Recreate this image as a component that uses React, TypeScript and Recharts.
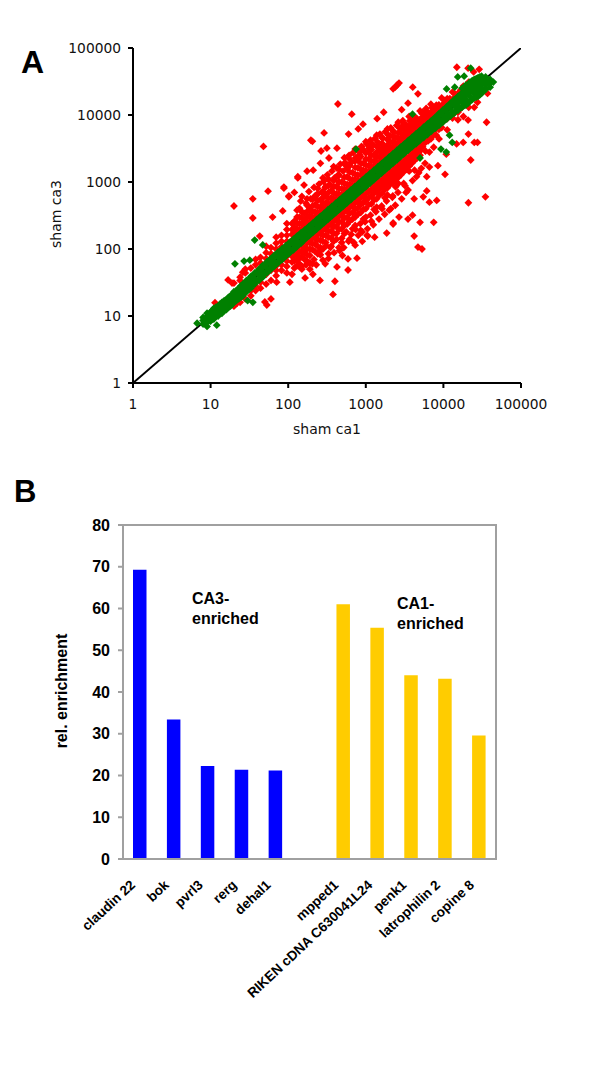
import React from "react";
import { ScatterChart, Scatter, XAxis, YAxis, BarChart, Bar, Cell } from "recharts";

// Panel A: values, [sham ca1, [sham ca3 values...]]
const redBandLow: [number, number[]][] = [
  [20, [31, 14]], [24, [38, 34, 16]], [28, [50, 44, 18]], [33, [52, 20, 24]], [38, [70, 58, 24, 28]],
  [44, [75, 62, 26, 32]], [52, [110, 88, 72, 30, 42]], [60, [105, 85, 72, 34, 48]],
  [70, [150, 122, 100, 84, 40, 48, 56]], [82, [160, 130, 108, 95, 48, 58, 68]],
  [96, [240, 195, 160, 130, 112, 44, 55, 66, 78]], [112, [240, 195, 165, 135, 42, 64, 78, 92]],
  [130, [380, 300, 245, 200, 170, 150, 56, 68, 84, 100, 112]], [150, [360, 290, 240, 200, 175, 50, 76, 92, 110, 125]],
  [175, [560, 450, 360, 295, 245, 210, 66, 82, 100, 122, 142]], [205, [550, 440, 360, 300, 250, 60, 98, 120, 145, 168]],
  [240, [800, 660, 530, 430, 350, 295, 85, 110, 138, 165, 195]], [280, [1150, 720, 580, 470, 390, 340, 100, 130, 160, 190, 225]],
  [330, [1100, 880, 700, 570, 470, 400, 85, 150, 185, 225, 265]], [385, [1700, 1050, 850, 680, 560, 470, 130, 170, 215, 260, 310]],
];
const redBandMid: [number, number[]][] = [
  [450, [1550, 1250, 1000, 800, 660, 550, 105, 195, 250, 305, 365]], [530, [2300, 1850, 1180, 950, 780, 650, 170, 225, 290, 360, 430]],
  [620, [2200, 1750, 1400, 1120, 920, 760, 140, 260, 340, 420, 500]], [730, [3100, 2050, 1650, 1300, 1080, 900, 225, 300, 390, 490, 590]],
  [860, [2900, 2400, 1900, 1550, 1280, 1060, 190, 350, 460, 580, 700]], [1000, [4000, 2700, 2200, 1800, 1480, 1230, 300, 400, 530, 670, 810]],
  [1180, [3700, 3050, 2500, 2050, 1700, 1430, 260, 470, 620, 780, 950]], [1380, [5000, 3400, 2800, 2350, 1950, 1650, 420, 560, 730, 920, 1120]],
  [1620, [4600, 3800, 3150, 2650, 2250, 1900, 400, 680, 860, 1080, 1320]], [1900, [6200, 4300, 3550, 3000, 2550, 2200, 640, 820, 1020, 1270, 1550]],
  [2230, [5800, 4800, 4000, 3400, 2900, 2550, 620, 980, 1210, 1490, 1820]], [2620, [7800, 5400, 4500, 3850, 3350, 2950, 950, 1170, 1430, 1750, 2130]],
];
const redBandHigh: [number, number[]][] = [
  [3080, [7300, 6100, 5100, 4400, 3850, 3450, 950, 1420, 1700, 2050, 2500]], [3620, [9500, 6800, 5800, 5000, 4400, 4000, 1450, 1720, 2030, 2420, 2950]],
  [4250, [8900, 7600, 6500, 5700, 5100, 1500, 2100, 2450, 2900, 3450]], [5000, [11500, 8500, 7400, 6500, 5900, 2500, 2900, 3400, 4050]],
  [5870, [11200, 9700, 8500, 7500, 6900, 2900, 3900, 4700]], [6900, [14500, 11000, 9700, 8700, 8000, 4400, 5400]],
  [8100, [14000, 12500, 11200, 10200, 9400, 5000, 6400]], [9500, [18000, 13800, 12500, 11500, 6500, 7600]],
  [11200, [17500, 15500, 14200, 6000, 8800]], [13100, [22000, 17000, 9000]],
  [15400, [21000, 8500, 11000]], [18100, [27000, 9500]], [21200, [31000, 13000]], [25000, [13000]],
];
const redBandFill: [number, number[]][] = [
  [120, [175, 210, 260, 66, 80, 52]], [140, [195, 240, 300, 405, 74, 90, 60]], [162, [225, 265, 340, 105, 88, 70]],
  [190, [255, 310, 395, 125, 100, 80, 62]], [222, [300, 360, 460, 620, 145, 118, 92]], [260, [350, 420, 540, 170, 135, 105, 82]],
  [305, [410, 490, 640, 860, 200, 160, 125]], [358, [480, 580, 740, 230, 185, 145, 110]], [418, [560, 670, 860, 1180, 270, 220, 170]],
  [490, [650, 790, 1000, 320, 255, 200, 145]], [575, [770, 920, 1190, 1600, 370, 295, 235]], [675, [900, 1080, 1380, 440, 350, 280, 200]],
  [790, [1060, 1270, 1620, 2150, 520, 410, 330]], [930, [1240, 1490, 1900, 610, 490, 390, 280]], [1090, [1450, 1750, 2200, 2850, 720, 580, 460]],
  [1280, [1700, 2050, 2550, 840, 680, 540, 390]], [1500, [2000, 2400, 2950, 3650, 990, 800, 640]], [1760, [2350, 2800, 3400, 1170, 950, 770, 580]],
  [2060, [2750, 3250, 3950, 4900, 1380, 1120, 920]], [2420, [3200, 3800, 4600, 1620, 1320, 1080, 850]], [2840, [3750, 4400, 5300, 6400, 1900, 1580, 1280]],
  [3340, [4400, 5100, 6100, 2250, 1900, 1550]], [3920, [5150, 5900, 7000, 8400, 2700, 2300, 1900]], [4600, [6100, 6900, 8100, 3250, 2750, 2300]],
  [5400, [7100, 8000, 9300, 11000, 3950, 3350]], [6350, [8300, 9300, 10700, 4800, 4100]], [7450, [9700, 10700, 12300, 5800, 5000]],
  [8750, [11300, 12500, 14200, 7000, 6100]], [10300, [13300, 14800, 16500, 8300]], [12100, [15500, 17500, 9600]],
  [14200, [18500, 20500, 11000]], [16700, [21000, 23500, 12500]],
];
const redUpperEdge: [number, number][] = [
  [145, 520], [150, 610], [170, 480], [185, 720], [195, 560], [215, 830], [230, 640], [250, 930], [270, 700], [285, 1020], [300, 830], [320, 1280], [345, 920],
  [365, 1450], [395, 1150], [420, 1620], [445, 1290], [470, 1850], [510, 1450], [540, 1950], [580, 1700], [610, 2500], [650, 1950], [690, 2750], [740, 2300],
  [780, 3000], [830, 2550], [880, 3400], [950, 2950], [1020, 3700], [1100, 3200], [1150, 4200], [1240, 3600], [1320, 4500], [1420, 3950], [1520, 5200], [1650, 4500],
  [1780, 5600], [1950, 5000], [2100, 6400], [2300, 5600], [2500, 7000], [2750, 6300], [3000, 8200], [3300, 7200], [3700, 8200], [4100, 9600], [4500, 9000],
  [5300, 10500], [6000, 12500], [7200, 13000],
];
const redLowerEdge: [number, number][] = [
  [150, 55], [170, 58], [190, 50], [215, 70], [230, 58], [260, 95], [280, 68], [310, 112], [330, 72], [350, 105], [390, 88], [420, 140], [460, 95], [490, 125],
  [520, 105], [560, 180], [600, 130], [650, 165], [700, 125], [740, 195], [800, 160], [850, 240], [900, 180], [980, 255], [1050, 200], [1150, 320], [1250, 230],
  [1350, 360], [1480, 280], [1600, 440], [1750, 330], [1850, 520], [2000, 380], [2200, 590], [2400, 450], [2600, 700], [2900, 560], [3200, 880], [3500, 760],
  [4000, 1050], [4500, 1200], [5200, 1600], [5800, 1900], [6600, 2800], [7500, 3300], [8800, 4400],
];
const redOutliers: [number, number][] = [
  [11.4, 15.8], [16.8, 34.6], [18.9, 31], [26, 45], [22, 15.6], [50, 16.2], [60, 18], [53, 14.6], [378, 21], [257, 34], [400, 33], [590, 48.6],
  [425, 54], [770, 73], [590, 71], [1860, 173], [2250, 236], [1040, 160], [730, 114], [165, 37], [208, 42], [71, 32], [105, 32], [142, 54],
  [48, 3400], [20, 438], [35, 560], [35, 290], [55, 730], [88, 810], [133, 1150], [102, 600], [63, 300], [85, 370], [43, 156],
  [14900, 51600], [20800, 50000], [28900, 48000], [24500, 44000], [2530, 28000], [2250, 24600], [2680, 30000], [2390, 26000],
  [4030, 26000], [4700, 20700], [437, 14600], [660, 10300], [920, 7300], [290, 5400], [196, 4200], [205, 4050], [315, 3200], [265, 2900], [425, 3200],
  [335, 2280], [175, 1450], [133, 1200], [88, 840], [102, 620], [36000, 7800], [22500, 2130], [34800, 600], [21000, 490], [10500, 1300], [8200, 530],
  [7500, 250], [6600, 500], [4200, 560], [5500, 600], [6100, 735], [5000, 250], [4200, 156], [3500, 280], [4000, 320], [1060, 156], [4700, 107], [5300, 100],
  [2680, 300], [2250, 245], [27500, 3900], [25000, 3900], [21000, 5200], [18000, 3900], [14800, 3700], [10900, 2600], [8500, 1750], [6600, 1670], [4800, 1370],
  [20800, 8400], [37000, 21000], [27500, 15500], [1400, 8800], [1700, 11000], [2900, 12000], [3500, 15000], [600, 5200], [800, 6200], [210, 1500],
  [160, 900], [260, 1900], [120, 700], [1300, 150], [2100, 400], [3300, 700], [6100, 1200], [900, 130], [500, 80], [300, 60],
];
const greenBandLow: [number, number[]][] = [
  [8, [7.6, 8.6, 9.5]], [9, [8.1, 9.6, 11]], [10, [8.4, 9.4, 11.5]], [11, [9, 11, 13]], [12.5, [10, 11.6, 14]], [14, [11, 13, 16]],
  [16, [12.5, 15, 17.5]], [18, [14, 17, 20]], [20, [16, 19, 23]], [23, [18, 22, 26]], [26, [20, 25, 30]], [29, [23, 28, 34]],
  [33, [26, 32, 39]], [37, [30, 36, 44]], [42, [34, 41, 50]], [47, [38, 46, 57]], [53, [44, 52, 64]], [59, [49, 60, 71]], [66, [55, 65, 80]],
  [74, [62, 75, 90]], [83, [69, 82, 100]], [93, [78, 94, 112]], [104, [87, 103, 125]], [117, [97, 118, 140]], [131, [110, 130, 157]], [147, [122, 148, 176]],
];
const greenBandMid: [number, number[]][] = [
  [165, [140, 164, 195]], [185, [157, 186, 218]], [207, [176, 205, 244]], [232, [197, 233, 274]], [260, [221, 258, 307]], [291, [247, 293, 343]],
  [326, [277, 325, 385]], [365, [310, 366, 431]], [409, [348, 407, 483]], [458, [389, 460, 540]], [513, [436, 510, 605]], [575, [489, 578, 678]],
  [644, [547, 640, 760]], [721, [613, 724, 851]], [808, [687, 805, 953]], [905, [769, 910, 1068]], [1014, [862, 1010, 1197]], [1135, [965, 1140, 1339]],
  [1272, [1081, 1265, 1501]], [1424, [1210, 1430, 1680]], [1595, [1356, 1590, 1882]], [1787, [1519, 1795, 2109]], [2000, [1700, 1990, 2360]], [2240, [1904, 2250, 2643]],
];
const greenBandHigh: [number, number[]][] = [
  [2510, [2130, 2500, 2960]], [2810, [2390, 2820, 3316]], [3150, [2680, 3140, 3717]], [3530, [3000, 3540, 4165]], [3950, [3350, 3940, 4660]], [4430, [3700, 4440, 5230]],
  [4960, [4150, 4950, 5850]], [5560, [4600, 5570, 6560]], [6230, [5100, 6220, 7350]], [6980, [5700, 7000, 8240]], [7820, [6300, 7800, 9230]], [8760, [7000, 8700, 10500]],
  [9800, [7800, 9800, 11800]], [11000, [8700, 11000, 13300]], [12300, [9600, 12300, 15000]], [13800, [10700, 13800, 17000]],
  [15500, [11800, 13500, 15500, 19000]], [17400, [13000, 15500, 17500, 21000, 25000]], [19500, [14000, 17000, 20000, 24000, 28000]],
  [22000, [16000, 19000, 22500, 27000, 31000]], [25000, [18000, 21000, 25000, 29000, 34000]], [28000, [19000, 23000, 27000, 31000, 36000]],
  [31000, [21000, 25000, 29000, 34000, 38000]], [35000, [24000, 28000, 32000, 37000]], [40000, [26000, 30000, 34000]],
];
const greenBandFill: [number, number[]][] = [
  [8.5, [8, 9.2]], [9.5, [8.5, 10]], [10.5, [9, 10.4, 12]], [11.7, [10, 11.8, 13.5]], [13.2, [11, 13.2, 15]],
  [15, [12, 14.5, 17]], [17, [13.5, 16, 19]], [19, [15, 18, 21]], [21.5, [17, 20.5, 24]], [24.5, [19, 23.5, 28]],
  [27.5, [22, 26.5, 31]], [31, [25, 30, 35]], [35, [30, 40]], [39.5, [34, 45]], [44.5, [38, 51]], [50, [43, 57]],
  [56, [48, 64]], [62.5, [54, 71]], [70, [60, 80]], [78.5, [68, 89]], [88, [76, 100]], [98.5, [85, 112]],
  [110, [95, 125]], [124, [107, 141]], [139, [120, 158]], [156, [135, 177]], [175, [152, 199]], [196, [170, 223]],
  [220, [190, 250]], [246, [213, 279]], [276, [239, 313]], [309, [268, 351]], [346, [300, 393]], [387, [335, 439]],
  [433, [375, 492]], [485, [420, 551]], [543, [470, 617]], [608, [527, 691]], [681, [590, 773]], [763, [661, 866]],
  [855, [741, 971]], [957, [829, 1087]], [1072, [929, 1217]], [1200, [1040, 1362]], [1345, [1165, 1527]],
  [1506, [1305, 1710]], [1687, [1462, 1916]], [1890, [1638, 2146]], [2117, [1835, 2404]], [2370, [2054, 2691]],
  [2655, [2300, 3015]], [2973, [2576, 3376]], [3330, [2886, 3781]], [3730, [3233, 4235]], [4180, [3622, 4746]],
  [4680, [4056, 5314]], [5240, [4541, 5950]], [5870, [5087, 6665]], [6575, [5698, 7466]], [7365, [6383, 8363]],
  [8250, [7150, 9368]], [9240, [8008, 10492]], [10400, [8900, 12000]], [11600, [9800, 13500]],
  [13000, [10800, 15200]], [14600, [11700, 14500, 17500]], [16400, [12800, 16500, 20000]], [18400, [13800, 18500, 22500]],
  [20700, [15000, 20500, 25500]], [23500, [17000, 23000, 28000, 32500]], [26500, [18500, 25500, 30500, 35000]], [29500, [20000, 27000, 32000, 37000]], [33000, [23000, 30000, 35000]],
];
const greenOutliers: [number, number][] = [
  [20.6, 60], [27, 66], [32, 68], [37, 136], [47, 115], [12, 7.3], [30, 17], [35, 16], [6.7, 7.8], [9, 7], [44000, 31000], [18500, 38000], [15300, 37000],
  [22500, 50000], [14000, 26000], [11000, 24500], [9300, 3100], [10900, 2800], [13000, 3900], [12000, 5000], [5000, 2280], [4000, 10300], [750, 3100],
];
const diagonalEnds = [1, 100000];
const logTicks = [1, 10, 100, 1000, 10000, 100000];

// Panel B
const genes = ["claudin 22", "bok", "pvrl3", "rerg", "dehal1", " ", "mpped1", "RIKEN cDNA C630041L24", "penk1", "latrophilin 2", "copine 8"];
const enrichment = [69.3, 33.4, 22.3, 21.4, 21.2, 0, 61, 55.4, 44, 43.2, 29.6];
const geneColors = ["#0000ff", "#0000ff", "#0000ff", "#0000ff", "#0000ff", "#0000ff", "#ffcc00", "#ffcc00", "#ffcc00", "#ffcc00", "#ffcc00"];
const enrichmentTicks = [0, 10, 20, 30, 40, 50, 60, 70, 80];

const flatten = (cols: [number, number[]][]) => cols.flatMap(([x, ys]) => ys.map((y) => ({ x, y })));
const pairs = (list: [number, number][]) => list.map(([x, y]) => ({ x, y }));
const redPoints = [
  ...flatten(redBandLow), ...flatten(redBandMid), ...flatten(redBandHigh), ...flatten(redBandFill),
  ...pairs(redUpperEdge), ...pairs(redLowerEdge), ...pairs(redOutliers),
];
const greenPoints = [...flatten(greenBandLow), ...flatten(greenBandMid), ...flatten(greenBandHigh), ...flatten(greenBandFill), ...pairs(greenOutliers)];
const diagonal = diagonalEnds.map((v) => ({ x: v, y: v }));
const barData = genes.map((name, i) => ({ name, value: enrichment[i] }));

const Diamond = (color: string) => (p: any) => {
  const r = 3.9;
  return <path d={`M${p.cx},${p.cy - r}L${p.cx + r},${p.cy}L${p.cx},${p.cy + r}L${p.cx - r},${p.cy}Z`} fill={color} />;
};
const NoMark = () => <g />;
const SANS = "'Liberation Sans', Arial, sans-serif";
const VERD = "'DejaVu Sans', Verdana, sans-serif";

const GeneTick = (p: any) => (
  <text
    x={p.x - 4}
    y={p.y + 19}
    transform={`rotate(-43 ${p.x - 4} ${p.y + 19})`}
    textAnchor="end"
    fontFamily={SANS}
    fontWeight="bold"
    fontSize={13.6}
    fill="#000"
  >
    {p.payload.value}
  </text>
);

export default function App() {
  return (
    <div style={{ position: "absolute", left: 0, top: 0, width: 600, height: 1079, background: "#fff" }}>
      <div style={{ position: "absolute", left: 0, top: 0 }}>
        <ScatterChart width={600} height={450} margin={{ left: 73, top: 48, right: 79, bottom: 37 }}>
          <XAxis
            type="number"
            dataKey="x"
            scale="log"
            domain={[1, 100000]}
            ticks={logTicks}
            interval={0}
            allowDataOverflow
            height={30}
            stroke="#000"
            strokeWidth={2}
            tickSize={5}
            tickMargin={11}
            tick={{ fontFamily: VERD, fontSize: 13.8, fill: "#111" }}
          />
          <YAxis
            type="number"
            dataKey="y"
            scale="log"
            domain={[1, 100000]}
            ticks={logTicks}
            interval={0}
            allowDataOverflow
            width={60}
            stroke="#000"
            strokeWidth={2}
            tickSize={5}
            tickMargin={7}
            tick={{ fontFamily: VERD, fontSize: 13.8, fill: "#111" }}
          />
          <Scatter data={diagonal} line={{ stroke: "#000", strokeWidth: 2 }} shape={NoMark} isAnimationActive={false} />
          <Scatter data={redPoints} shape={Diamond("#ff0000")} isAnimationActive={false} />
          <Scatter data={greenPoints} shape={Diamond("#008000")} isAnimationActive={false} />
        </ScatterChart>
      </div>
      <div style={{ position: "absolute", left: 0, top: 450 }}>
        <BarChart width={600} height={629} data={barData} margin={{ left: 63, top: 75, right: 104, bottom: 60 }}>
          <XAxis dataKey="name" height={160} interval={0} stroke="#a0a0a0" strokeWidth={2} tickLine={false} tick={GeneTick} />
          <YAxis
            domain={[0, 80]}
            ticks={enrichmentTicks}
            interval={0}
            width={60}
            stroke="#a0a0a0"
            strokeWidth={2}
            tickSize={5}
            tickMargin={8}
            tick={{ fontFamily: SANS, fontWeight: "bold", fontSize: 16, fill: "#000" }}
          />
          <Bar dataKey="value" barSize={13.5} isAnimationActive={false}>
            {geneColors.map((c, i) => (
              <Cell key={i} fill={c} />
            ))}
          </Bar>
        </BarChart>
      </div>
      <svg width={600} height={1079} style={{ position: "absolute", left: 0, top: 0, pointerEvents: "none" }}>
        <rect x={123} y={525} width={373} height={334} fill="none" stroke="#a0a0a0" strokeWidth={2} />
        <text x={21} y={73} fontFamily={SANS} fontWeight="bold" fontSize={32}>A</text>
        <text x={14} y={502} fontFamily={SANS} fontWeight="bold" fontSize={31}>B</text>
        <text x={327} y={434} textAnchor="middle" fontFamily={VERD} fontSize={14} fill="#111">sham ca1</text>
        <text x={61} y={214} textAnchor="middle" transform="rotate(-90 61 214)" fontFamily={VERD} fontSize={14} fill="#111">sham ca3</text>
        <text x={67} y={691} textAnchor="middle" transform="rotate(-90 67 691)" fontFamily={SANS} fontWeight="bold" fontSize={16}>rel. enrichment</text>
        <text x={192} y={604} fontFamily={SANS} fontWeight="bold" fontSize={16}>CA3-</text>
        <text x={192} y={624} fontFamily={SANS} fontWeight="bold" fontSize={16}>enriched</text>
        <text x={397} y={609} fontFamily={SANS} fontWeight="bold" fontSize={16}>CA1-</text>
        <text x={397} y={629} fontFamily={SANS} fontWeight="bold" fontSize={16}>enriched</text>
      </svg>
    </div>
  );
}
